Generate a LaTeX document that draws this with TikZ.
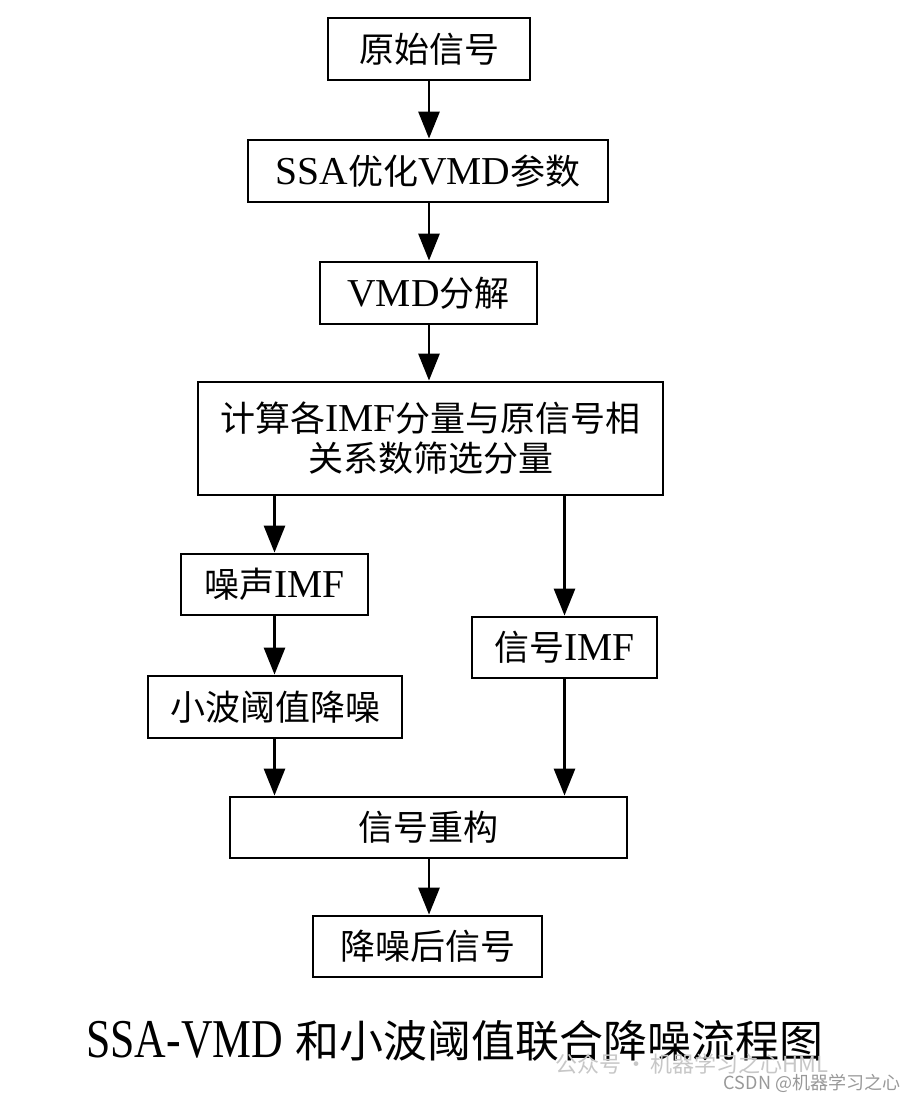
\documentclass[tikz,border=0pt]{standalone}
\usepackage{fontspec}
\usepackage{graphicx}
\setmainfont{Liberation Serif}[Scale=1.13]
\newfontfamily\cjk{Noto Sans CJK SC}
\newcommand\zh[1]{{\cjk #1}}
\usetikzlibrary{arrows.meta}
\tikzset{
  box/.style={draw, line width=2.8pt, inner sep=0pt, align=center,
    font=\fontsize{35}{40}\selectfont},
  arr/.style={line width=2.8pt, -{Triangle[length=27pt,width=21pt]}},
}
\begin{document}
\begin{tikzpicture}[x=1pt,y=-1pt]
\fill[white] (0,0) rectangle (905,1098);
\useasboundingbox (0,0) rectangle (905,1098);

\node[box, minimum width=202pt, minimum height=62pt] (n1) at (429,49) {\zh{原始信号}};
\node[box, minimum width=360pt, minimum height=62pt] (n2) at (428,171) {SSA\zh{优化}VMD\zh{参数}};
\node[box, minimum width=217pt, minimum height=62pt] (n3) at (428.5,293) {VMD\zh{分解}};
\node[box, minimum width=465pt, minimum height=113pt] (n4) at (430.5,438.5) {\zh{计算各}IMF\zh{分量与原信号相}\\\zh{关系数筛选分量}};
\node[box, minimum width=187pt, minimum height=61pt] (n5) at (274.5,584.5) {\zh{噪声}IMF};
\node[box, minimum width=185pt, minimum height=61pt] (n6) at (564.5,647.5) {\zh{信号}IMF};
\node[box, minimum width=254pt, minimum height=62pt] (n7) at (275,707) {\zh{小波阈值降噪}};
\node[box, minimum width=397pt, minimum height=61pt] (n8) at (428.5,827.5) {\zh{信号重构}};
\node[box, minimum width=229pt, minimum height=61pt] (n9) at (427.5,946.5) {\zh{降噪后信号}};

\draw[arr] (n1.south) -- (n2.north -| n1.south);
\draw[arr] (n2.south -| n1.south) -- (n3.north -| n1.south);
\draw[arr] (n3.south -| n1.south) -- (n4.north -| n1.south);
\draw[arr] (n4.south -| n5.north) -- (n5.north);
\draw[arr] (n4.south -| n6.north) -- (n6.north);
\draw[arr] (n5.south) -- (n7.north -| n5.south);
\draw[arr] (n7.south -| n5.south) -- (n8.north -| n5.south);
\draw[arr] (n6.south) -- (n8.north -| n6.south);
\draw[arr] (n8.south -| n1.south) -- (n9.north -| n1.south);

\node[font=\fontsize{44}{50}\selectfont, inner sep=0pt] (cap) at (455,1041)
  {\scalebox{0.88}[1.1]{SSA-VMD} \zh{和小波阈值联合降噪流程图}};

\node[font=\fontsize{22}{24}\selectfont\cjk, text=black!22, inner sep=0pt] (wm1) at (692,1064) {公众号\,·\,机器学习之心HML};
\node[font=\fontsize{18}{20}\selectfont\cjk, text=black!40, inner sep=0pt] (wm2) at (812,1083) {CSDN @机器学习之心};
\end{tikzpicture}
\end{document}
